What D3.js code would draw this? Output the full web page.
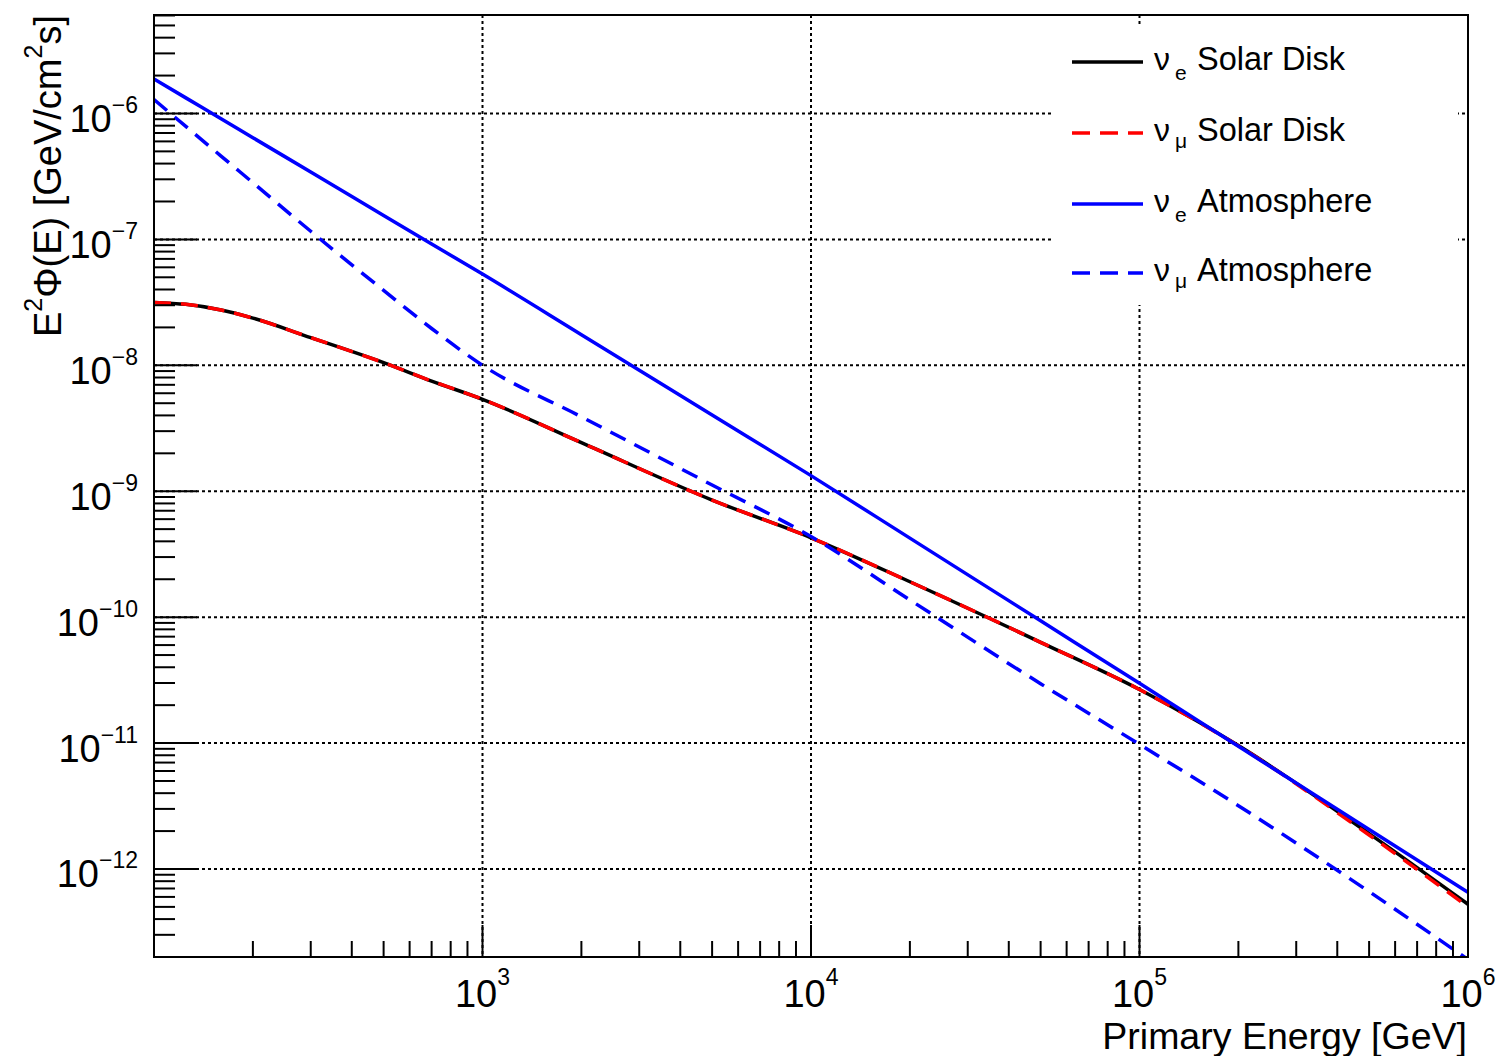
<!DOCTYPE html>
<html><head><meta charset="utf-8">
<script src="https://cdn.jsdelivr.net/npm/d3@7"></script>
<style>
body{margin:0;background:#fff;}
text{font-family:"Liberation Sans",Arial,Helvetica,sans-serif;fill:#000;}
</style>
</head><body>
<svg id="c" width="1504" height="1056"></svg>
<script>
// ---- data ----
const energy = [100,125,160,200,300,500,700,1000,2000,5000,1e4,2e4,5e4,1e5,2e5,5e5,1e6];
const nueSolar  = [3.16e-8,3.05e-8,2.75e-8,2.37e-8,1.66e-8,1.05e-8,7.50e-9,5.37e-9,2.43e-9,8.51e-10,4.27e-10,1.91e-10,6.31e-11,2.66e-11,9.55e-12,1.91e-12,5.25e-13];
const numuSolar = [3.16e-8,3.05e-8,2.75e-8,2.37e-8,1.66e-8,1.05e-8,7.50e-9,5.37e-9,2.43e-9,8.51e-10,4.27e-10,1.91e-10,6.31e-11,2.66e-11,9.50e-12,1.86e-12,5.01e-13];
const nueAtm    = [1.88e-6,1.33e-6,9.08e-7,6.42e-7,3.43e-7,1.55e-7,9.2e-8,5.30e-8,1.75e-8,4.03e-9,1.33e-9,4.24e-10,9.35e-11,2.98e-11,9.42e-12,2.06e-12,6.52e-13];
const numuAtm   = [1.29e-6,7.89e-7,4.59e-7,2.82e-7,1.16e-7,3.94e-8,1.96e-8,1.0e-8,3.90e-9,1.12e-9,4.37e-10,1.37e-10,2.96e-11,9.77e-12,3.18e-12,6.61e-13,1.91e-13];
const seriesNames = ["Solar Disk","Solar Disk","Atmosphere","Atmosphere"];
const seriesFlavour = ["e","μ","e","μ"];
const xTickExp = [3,4,5,6];
const yTickExp = [-12,-11,-10,-9,-8,-7,-6];
const xTitle = "Primary Energy [GeV]";

// ---- layout ----
const L=154, R=1468, T=15, B=957;
const svg = d3.select("#c");
const x = d3.scaleLog().domain([100,1e6]).range([L,R]);
const y = d3.scaleLog().domain([Math.pow(10,-12.699),Math.pow(10,-5.218)]).range([B,T]);
const isMajor = v => Math.abs(Math.log10(v)-Math.round(Math.log10(v)))<1e-6;

svg.append("defs").append("clipPath").attr("id","clip")
  .append("rect").attr("x",L).attr("y",T).attr("width",R-L).attr("height",B-T);

// grid
const grid = svg.append("g").attr("stroke","#000").attr("stroke-width",2).attr("stroke-dasharray","3,3");
x.ticks().filter(v=>isMajor(v) && x(v)>L+1 && x(v)<R-1).forEach(v=>{
  grid.append("line").attr("x1",x(v)).attr("x2",x(v)).attr("y1",T).attr("y2",B);
});
y.ticks().filter(v=>isMajor(v) && y(v)>T+1 && y(v)<B-1).forEach(v=>{
  grid.append("line").attr("x1",L).attr("x2",R).attr("y1",y(v)).attr("y2",y(v));
});

// curves
const line = d3.line().x(d=>x(d[0])).y(d=>y(d[1])).curve(d3.curveMonotoneX);
const mk = arr => energy.map((e,i)=>[e,arr[i]]);
const series = [
  {data:nueSolar,  color:"#000000", dash:null},
  {data:numuSolar, color:"#ff0000", dash:"17,10"},
  {data:nueAtm,    color:"#0000ff", dash:null},
  {data:numuAtm,   color:"#0000ff", dash:"17,10"}
];
const cg = svg.append("g").attr("clip-path","url(#clip)");
series.forEach(s=>{
  cg.append("path").attr("d",line(mk(s.data))).attr("fill","none")
    .attr("stroke",s.color).attr("stroke-width",3.5)
    .attr("stroke-dasharray",s.dash);
});

// legend
svg.append("rect").attr("x",1053).attr("y",27).attr("width",405).attr("height",278).attr("fill","#fff");
const legY = [62,133,204,273];
series.forEach((s,i)=>{
  const ly = legY[i];
  svg.append("line").attr("x1",1072).attr("x2",1143).attr("y1",ly).attr("y2",ly)
    .attr("stroke",s.color).attr("stroke-width",3.5).attr("stroke-dasharray",s.dash?"18,10":null);
  svg.append("text").attr("x",1154).attr("y",ly+8).attr("font-size",32).text("ν");
  svg.append("text").attr("x",1175).attr("y",ly+(seriesFlavour[i]==="e"?18:15)).attr("font-size",21).text(seriesFlavour[i]);
  svg.append("text").attr("x",1197).attr("y",ly+8).attr("font-size",32.5).text(seriesNames[i]);
});

// frame
svg.append("rect").attr("x",L).attr("y",T).attr("width",R-L).attr("height",B-T)
  .attr("fill","none").attr("stroke","#000").attr("stroke-width",2);

// ticks
const tk = svg.append("g").attr("stroke","#000").attr("stroke-width",2);
y.ticks().filter(v=>y(v)>=T-0.5 && y(v)<=B+0.5).forEach(v=>{
  const len = isMajor(v)?43:21;
  tk.append("line").attr("x1",L).attr("x2",L+len).attr("y1",y(v)).attr("y2",y(v));
});
x.ticks().filter(v=>x(v)>=L-0.5 && x(v)<=R+0.5).forEach(v=>{
  const len = isMajor(v)?32:16;
  tk.append("line").attr("x1",x(v)).attr("x2",x(v)).attr("y1",B).attr("y2",B-len);
});

// y tick labels
yTickExp.forEach(e=>{
  const yy = y(Math.pow(10,e));
  const t = svg.append("text").attr("x",138).attr("y",yy+18.5).attr("text-anchor","end").attr("font-size",38);
  t.append("tspan").text("10");
  t.append("tspan").attr("font-size",23).attr("dy",-19).text("−"+Math.abs(e));
});
// x tick labels
xTickExp.forEach(e=>{
  const xx = x(Math.pow(10,e));
  const t = svg.append("text").attr("x",xx).attr("y",1007).attr("text-anchor","middle").attr("font-size",38);
  t.append("tspan").text("10");
  t.append("tspan").attr("font-size",23).attr("dy",-22).text(String(e));
});

// axis titles
svg.append("text").attr("x",1467).attr("y",1049).attr("text-anchor","end").attr("font-size",37.5).text(xTitle);
const yt = svg.append("text").attr("transform","translate(61,15) rotate(-90)").attr("text-anchor","end").attr("font-size",38);
yt.append("tspan").text("E");
yt.append("tspan").attr("font-size",25).attr("dy",-19).text("2");
yt.append("tspan").attr("dy",19).text("Φ(E) [GeV/cm");
yt.append("tspan").attr("font-size",25).attr("dy",-19).text("2");
yt.append("tspan").attr("dy",19).text("s]");
</script>
</body></html>
